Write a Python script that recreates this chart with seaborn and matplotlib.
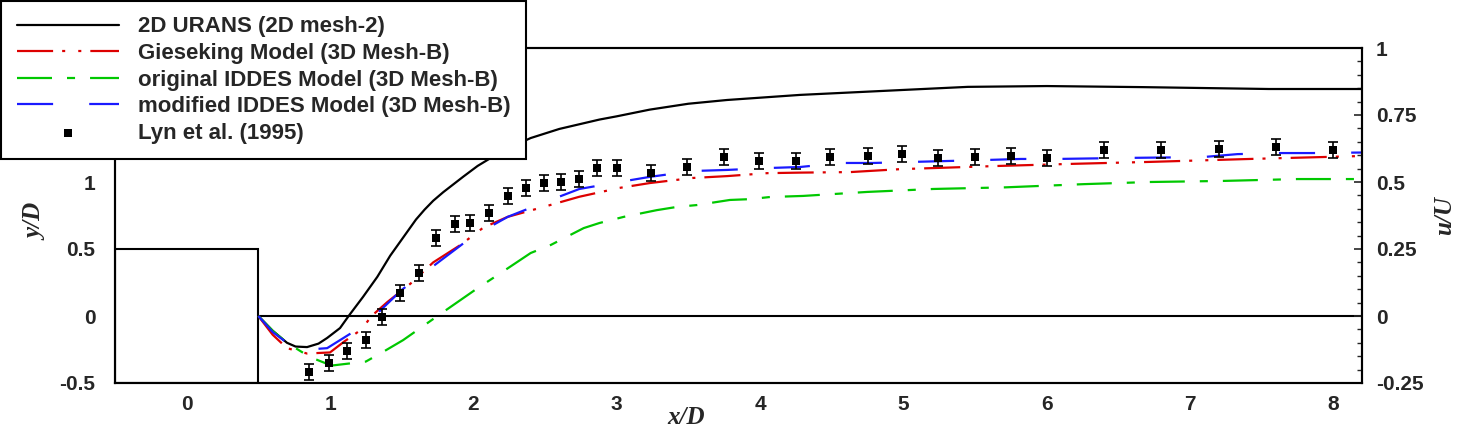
import seaborn as sns
import matplotlib.pyplot as plt
from matplotlib.patches import Rectangle
from matplotlib.ticker import MultipleLocator, FuncFormatter

# streamwise velocity along the wake centreline, u/U vs x/D
urans_x = [0.5, 0.6, 0.7, 0.76, 0.84, 0.92, 0.98, 1.07, 1.13, 1.23, 1.33, 1.42, 1.54, 1.6,
           1.66, 1.72, 1.79, 1.93, 2.03, 2.2, 2.4, 2.6, 2.88, 3.0, 3.23, 3.5, 3.77, 4.28, 4.98,
           5.45, 6.0, 6.67, 7.55, 8.2]
urans_u = [0.0, -0.055, -0.1, -0.114, -0.116, -0.103, -0.082, -0.045, 0.0, 0.071, 0.146, 0.225,
           0.315, 0.36, 0.397, 0.43, 0.462, 0.52, 0.56, 0.615, 0.664, 0.698, 0.733, 0.745,
           0.77, 0.792, 0.806, 0.825, 0.843, 0.855, 0.858, 0.854, 0.847, 0.847]

gies_x = [0.5, 0.6, 0.7, 0.84, 1.0, 1.1, 1.22, 1.29, 1.4, 1.56, 1.72, 1.91, 2.07, 2.24, 2.51,
          2.74, 3.02, 3.23, 3.53, 3.77, 4.05, 4.28, 4.63, 4.98, 5.21, 5.67, 6.2, 6.72, 7.42, 8.2]
gies_u = [0.0, -0.07, -0.12, -0.14, -0.136, -0.095, -0.05, 0.0, 0.052, 0.12, 0.2, 0.265, 0.33,
          0.37, 0.41, 0.445, 0.478, 0.496, 0.515, 0.522, 0.533, 0.535, 0.537, 0.548, 0.552, 0.56,
          0.568, 0.575, 0.586, 0.597]

orig_x = [0.5, 0.6, 0.7, 0.86, 1.01, 1.25, 1.37, 1.51, 1.75, 1.89, 2.03, 2.19, 2.4, 2.54, 2.77,
          2.88, 3.05, 3.28, 3.42, 3.56, 3.79, 3.93, 4.07, 4.3, 4.51, 4.75, 5.21, 5.71, 6.26, 6.72,
          7.23, 7.75, 8.2]
orig_u = [0.0, -0.055, -0.1, -0.153, -0.185, -0.17, -0.134, -0.09, 0.0, 0.052, 0.104, 0.16,
          0.235, 0.265, 0.328, 0.347, 0.37, 0.395, 0.407, 0.414, 0.433, 0.436, 0.444, 0.448,
          0.455, 0.463, 0.474, 0.48, 0.492, 0.5, 0.504, 0.511, 0.511]

mod_x = [0.5, 0.6, 0.72, 0.85, 0.98, 1.1, 1.22, 1.35, 1.5, 1.6, 1.73, 1.99, 2.24, 2.5, 2.74,
         3.02, 3.23, 3.53, 3.77, 4.05, 4.28, 4.56, 4.79, 5.07, 5.57, 5.82, 6.07, 6.58, 7.09,
         7.33, 7.61, 7.85, 8.2]
mod_u = [0.0, -0.06, -0.108, -0.125, -0.12, -0.08, -0.04, 0.02, 0.097, 0.14, 0.19, 0.295, 0.37,
         0.425, 0.474, 0.5, 0.519, 0.541, 0.545, 0.552, 0.556, 0.571, 0.571, 0.575, 0.582,
         0.586, 0.586, 0.59, 0.593, 0.604, 0.608, 0.608, 0.61]

lyn_x = [0.85, 0.99, 1.12, 1.25, 1.36, 1.49, 1.62, 1.74, 1.87, 1.98, 2.11, 2.24, 2.37, 2.49,
         2.61, 2.74, 2.86, 3.00, 3.24, 3.49, 3.75, 3.99, 4.25, 4.49, 4.75, 4.99, 5.24, 5.50,
         5.75, 6.00, 6.40, 6.80, 7.20, 7.60, 8.00]
lyn_u = [-0.209, -0.175, -0.131, -0.09, -0.003, 0.086, 0.16, 0.29, 0.343, 0.347, 0.384, 0.448,
         0.478, 0.496, 0.5, 0.511, 0.552, 0.552, 0.533, 0.556, 0.593, 0.578, 0.578, 0.593,
         0.597, 0.604, 0.59, 0.593, 0.597, 0.59, 0.619, 0.619, 0.623, 0.63, 0.619]
lyn_err = 0.03

labels = ["2D URANS (2D mesh-2)", "Gieseking Model (3D Mesh-B)",
          "original IDDES Model (3D Mesh-B)", "modified IDDES Model (3D Mesh-B)",
          "Lyn et al. (1995)"]

# square cylinder outline (y/D units) and zero line
cyl_x, cyl_y, cyl_size = -0.5, -0.5, 1.0
zero_line = (0.0, 0.5, 8.2)

sns.set_style("ticks")
plt.rcParams['font.family'] = ['Liberation Sans', 'DejaVu Sans']
plt.rcParams['lines.scale_dashes'] = False

fig = plt.figure(figsize=(14.59, 4.32), dpi=100)
ax = fig.add_axes([115 / 1459, 1 - 383 / 432, 1247 / 1459, 335 / 432])
ax2 = ax.twinx()

ax.set_xlim(-0.5, 8.2)
ax.set_ylim(-0.5, 2.0)
ax2.set_ylim(-0.25, 1.0)

ax.add_patch(Rectangle((cyl_x, cyl_y), cyl_size, cyl_size, fill=False, ec='black', lw=1.5))
ax.hlines(zero_line[0], zero_line[1], zero_line[2], color='black', lw=1.5)

sns.lineplot(x=urans_x, y=urans_u, ax=ax2, color='black', lw=1.6, sort=False, label=labels[0])
sns.lineplot(x=gies_x, y=gies_u, ax=ax2, color='#dd0000', lw=1.6, sort=False,
             linestyle=(0, (26, 6.5, 2.2, 9.4, 2.2, 6.5)), label=labels[1])
sns.lineplot(x=orig_x, y=orig_u, ax=ax2, color='#00c800', lw=1.6, sort=False,
             linestyle=(0, (25.2, 10.8, 5.8, 10.8)), label=labels[2])
sns.lineplot(x=mod_x, y=mod_u, ax=ax2, color='#1a1aff', lw=1.6, sort=False,
             linestyle=(0, (26, 26)), label=labels[3])

ax2.errorbar(lyn_x, lyn_u, yerr=lyn_err, fmt='none', ecolor='black', elinewidth=1.2,
             capsize=3.5, capthick=1.2, zorder=4)
sns.scatterplot(x=lyn_x, y=lyn_u, ax=ax2, marker='s', color='black', s=30, linewidth=0,
                zorder=5, label=labels[4])

# ticks
fmt = FuncFormatter(lambda v, p: f"{v:g}")
ax.set_xticks(range(0, 9))
ax.set_yticks([-0.5, 0, 0.5, 1, 1.5, 2])
ax.xaxis.set_major_formatter(fmt)
ax.yaxis.set_major_formatter(fmt)
ax.tick_params(axis='both', length=0, labelsize=15)
ax.tick_params(axis='x', pad=9)
ax.tick_params(axis='y', pad=14)

ax2.yaxis.set_major_locator(MultipleLocator(0.25))
ax2.yaxis.set_minor_locator(MultipleLocator(0.05))
ax2.yaxis.set_major_formatter(fmt)
ax2.tick_params(axis='y', which='major', direction='in', length=6, width=1.2,
                labelsize=15, pad=10)
ax2.tick_params(axis='y', which='minor', direction='in', length=3.5, width=1.0)

for t in ax.get_xticklabels() + ax.get_yticklabels() + ax2.get_yticklabels():
    t.set_fontweight('bold')

for a in (ax, ax2):
    for s in a.spines.values():
        s.set_linewidth(1.5)
        s.set_color('black')

lab_font = dict(family='Liberation Serif', weight='bold', style='italic', size=18)
ax.set_xlabel('x/D', **lab_font)
ax.xaxis.set_label_coords(0.458, -0.07)
ax.set_ylabel('y/D', **lab_font)
ax.yaxis.set_label_coords(-0.054, 0.48)
ax2.set_ylabel('u/U', **lab_font)
ax2.yaxis.set_label_coords(1.057, 0.50)

handles, labs = ax2.get_legend_handles_labels()
ax2.legend_.remove()
leg = fig.legend(handles, labs, loc='upper left', bbox_to_anchor=(0.001, 0.998),
                 frameon=True, fancybox=False, edgecolor='black', framealpha=1,
                 prop={'size': 16, 'weight': 'bold'}, handlelength=4.6,
                 handletextpad=0.85, labelspacing=0.25, borderpad=0.7, borderaxespad=0)
leg.get_frame().set_linewidth(1.5)

fig.savefig("out.png", dpi=100)
